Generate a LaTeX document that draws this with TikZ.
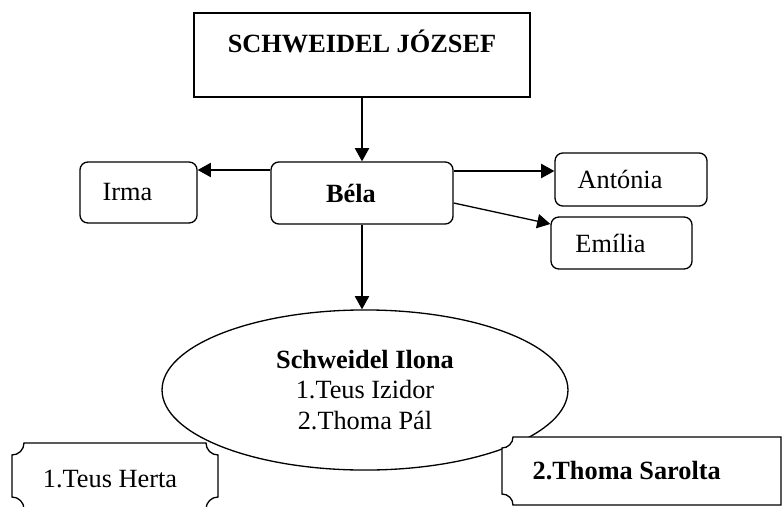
\documentclass[tikz,border=0pt]{standalone}
\usepackage{fontspec}
\setmainfont{Liberation Serif}
\usetikzlibrary{arrows.meta,shapes.geometric}

\newcommand{\lpad}[1]{#1\hspace*{10pt}}

\begin{document}
\begin{tikzpicture}[x=0.456pt,y=-0.456pt,line width=0.6pt,
    every node/.style={font=\fontsize{12}{14.1}\selectfont},
    box/.style={draw,fill=white,rounded corners=3.6pt,inner sep=0pt},
    arr/.style={-{Triangle[length=6pt,width=6.5pt]}}]
      \useasboundingbox (0,0) rectangle (782,506);
      \node[draw,fill=white,minimum width=153.2pt,minimum height=38.3pt,
            text height=8pt,text depth=10pt] (jozsef) at (362,55) {\textbf{SCHWEIDEL JÓZSEF}};
      \node[box,minimum width=83pt,minimum height=28.3pt] (bela) at (362,193) {\lpad{\textbf{Béla}}};
      \node[box,minimum width=53.4pt,minimum height=27.8pt] (irma) at (138.5,192.5) {\lpad{Irma}};
      \node[box,minimum width=69.3pt,minimum height=24.2pt] (antonia) at (631,179.5) {\lpad{Antónia}};
      \node[box,minimum width=64.3pt,minimum height=23.7pt] (emilia) at (621.5,243) {\lpad{Emília}};
      \node[draw,fill=white,ellipse,inner sep=0pt,align=center,
            minimum width=185.1pt,minimum height=73pt] (ilona) at (365,390)
            {\textbf{Schweidel Ilona}\\1.Teus Izidor\\2.Thoma Pál};
      \draw[arr] (jozsef.south) -- (bela.north);
      \draw[arr] (bela.south) -- (bela.south |- ilona.north);
      \draw[arr] (bela.west |- 0,170) -- (irma.east |- 0,170);
      \draw[arr] (bela.east |- 0,171) -- (antonia.west |- 0,171);
      \draw[arr] (bela.east |- 0,203) -- (emilia.west |- 0,224);
      % daughters
      \draw[fill=white] (24,443) -- (206,443) .. controls (206,449.6) and (211.4,455) .. (218,455)
        -- (218,497) .. controls (211.4,497) and (206,502.4) .. (206,509)
        -- (24,509) .. controls (24,502.4) and (18.6,497) .. (12,497)
        -- (12,455) .. controls (18.6,455) and (24,449.6) .. (24,443) -- cycle;
      \draw[fill=white] (513,437) -- (781,437) -- (781,505)
        -- (513,505) .. controls (513,498.9) and (508.1,494) .. (502,494)
        -- (502,448) .. controls (508.1,448) and (513,442.9) .. (513,437) -- cycle;
      \node[anchor=base,inner sep=0pt] (herta) at (110,487) {1.Teus Herta};
      \node[anchor=base west,inner sep=0pt] (sarolta) at (532,479) {\textbf{2.Thoma Sarolta}};
    \end{tikzpicture}
\end{document}
